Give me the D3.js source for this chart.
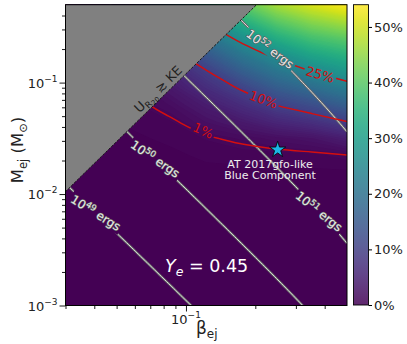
<!DOCTYPE html>
<html>
<head>
<meta charset="utf-8">
<script src="https://cdn.jsdelivr.net/npm/d3@7"></script>
<style>
  body { margin: 0; background: #fff; }
  svg { font-family: "DejaVu Sans", sans-serif; }
</style>
</head>
<body>
<svg id="chart" width="407" height="344"></svg>
<script>
// ---- data ----
// log-uniform sample grid of the colour map (value in %)
var gridBeta = [0.030, 0.0427, 0.0607, 0.0861, 0.1224, 0.174, 0.247, 0.352, 0.5];
var gridMass = [0.00794, 0.0112, 0.0158, 0.0224, 0.0316, 0.0447, 0.0631, 0.0891, 0.126, 0.178, 0.251, 0.355, 0.501];
// rows go from lowest mass to highest, columns follow gridBeta
var gridValues = [
  [0,    0,    0,    0,    0,    0,    0,    0,    0],
  [0,    0,    0.01, 0.02, 0.03, 0.03, 0.03, 0.03, 0.03],
  [0,    0.01, 0.03, 0.06, 0.12, 0.15, 0.15, 0.15, 0.15],
  [0.01, 0.03, 0.08, 0.15, 0.35, 0.4,  0.5,  0.6,  1.0],
  [0.03, 0.07, 0.18, 0.35, 0.8,  1.35, 2.0,  2.7,  4.5],
  [0.07, 0.15, 0.35, 0.7,  2.3,  3.76, 5.8,  7.4,  10],
  [0.15, 0.3,  0.65, 1.83, 4.13, 6.8,  10.2, 12.8, 16.25],
  [0.3,  0.5,  1.0,  3.43, 6.8,  10.5, 15.6, 18.9, 22.5],
  [0.5,  0.9,  2,    5.33, 9.67, 15.8, 20.9, 25,   28.6],
  [0.8,  1.5,  3.5,  7.8,  14.7, 21.1, 26.6, 31.5, 34.5],
  [1.3,  2.5,  5.5,  10.5, 20,   26.8, 33.4, 38,   40.5],
  [2,    4,    8,    15,   25.5, 33.6, 40.2, 44.5, 47.25],
  [3,    6,    11,   20,   32,   40.3, 47,   51,   54]
];
var contourLevels = [1, 10, 25];
var contourNames = ['1%', '10%', '25%'];
var energyLevels = [1e49, 1e50, 1e51, 1e52];
var energyExp = ['49', '50', '51', '52'];
// U_rad >= KE boundary (two ends of the straight edge)
var uradBeta = [0.03, 0.2025];
var uradMass = [0.01052, 0.5];
var starBeta = [0.25];
var starMass = [0.025];
var xTicksMajor = [0.1];
var xTicksMinor = [0.03, 0.04, 0.05, 0.06, 0.07, 0.08, 0.09, 0.2, 0.3, 0.4];
var yTicksMajor = [1e-3, 1e-2, 1e-1];
var yTicksMinor = [0.002, 0.003, 0.004, 0.005, 0.006, 0.007, 0.008, 0.009,
                   0.02, 0.03, 0.04, 0.05, 0.06, 0.07, 0.08, 0.09, 0.2, 0.3, 0.4];
var cbarTicks = [0, 10, 20, 30, 40, 50];

// ---- label placement ----
var contourLabelAt = [[0.1187, 0.0371, 24], [0.2167, 0.0704, 20], [0.382, 0.118, 16]];
// beta on the line, rotation in degrees
var energyLabelAt = [[0.0406, 32], [0.0735, 34], [0.378, 39], [0.2316, 37]];

var W = 407, H = 344;
var X0 = 65.5, X1 = 347, Y0 = 4.7, Y1 = 305.5;
var MSUN_C2 = 1.989e33 * 2.998e10 * 2.998e10;

var x = d3.scaleLog().domain([0.03, 0.5]).range([X0, X1]);
var y = d3.scaleLog().domain([1e-3, 0.5]).range([Y1, Y0]);
var color = d3.scaleSequential(d3.interpolateViridis).domain([0, 54]);

var svg = d3.select('#chart');
var defs = svg.append('defs');
defs.append('clipPath').attr('id', 'plotClip')
  .append('rect').attr('x', X0).attr('y', Y0).attr('width', X1 - X0).attr('height', Y1 - Y0);
var gapMask = defs.append('mask').attr('id', 'gapMask')
  .attr('maskUnits', 'userSpaceOnUse').attr('x', 0).attr('y', 0).attr('width', W).attr('height', H);
gapMask.append('rect').attr('width', W).attr('height', H).attr('fill', 'white');

var plot = svg.append('g').attr('clip-path', 'url(#plotClip)');
plot.append('rect').attr('x', X0).attr('y', Y0).attr('width', X1 - X0).attr('height', Y1 - Y0)
  .attr('fill', color(0));

// grid coordinate -> pixel (d3.contours puts sample i at i + 0.5)
var nx = gridBeta.length, ny = gridMass.length;
var lb0 = Math.log10(gridBeta[0]), dlb = (Math.log10(gridBeta[nx - 1]) - lb0) / (nx - 1);
var lm0 = Math.log10(gridMass[0]), dlm = (Math.log10(gridMass[ny - 1]) - lm0) / (ny - 1);
function gx(c) { return x(Math.pow(10, lb0 + (c - 0.5) * dlb)); }
function gy(c) { return y(Math.pow(10, lm0 + (c - 0.5) * dlm)); }
var flat = [].concat.apply([], gridValues);
var proj = d3.geoTransform({ point: function(px, py) { this.stream.point(gx(px), gy(py)); } });
var geoPath = d3.geoPath(proj);

//filled colour map as thin bands
var fillLevels = d3.range(0.25, 54, 0.5);
var bands = d3.contours().size([nx, ny]).thresholds(fillLevels)(flat);
plot.append('g').selectAll('path').data(bands).join('path')
  .attr('d', geoPath)
  .attr('fill', function(d) { return color(d.value + 0.25); });

var lined = plot.append('g').attr('mask', 'url(#gapMask)');

// constant kinetic energy lines
var betaSamples = d3.range(0, 121).map(function(i) { return 0.03 * Math.pow(0.5 / 0.03, i / 120); });
function massAt(E, b) { return E / ((1 / Math.sqrt(1 - b * b) - 1) * MSUN_C2); }
var eLine = d3.line().x(function(d) { return x(d[0]); }).y(function(d) { return y(d[1]); });
energyLevels.forEach(function(E) {
  var pts = betaSamples.map(function(b) { return [b, massAt(E, b)]; });
  lined.append('path').attr('d', eLine(pts)).attr('fill', 'none')
    .attr('stroke', '#6a6a6a').attr('stroke-width', 2.4);
  lined.append('path').attr('d', eLine(pts)).attr('fill', 'none')
    .attr('stroke', '#dcdcdc').attr('stroke-width', 1);
});

// red contours of the map
var isos = d3.contours().size([nx, ny]).thresholds(contourLevels)(flat);
function onEdge(p) { return p[0] <= 1e-6 || p[0] >= nx - 1e-6 || p[1] <= 1e-6 || p[1] >= ny - 1e-6; }
var isoLine = d3.line().defined(function(p) { return !onEdge(p); })
  .x(function(p) { return gx(p[0]); }).y(function(p) { return gy(p[1]); })
  .curve(d3.curveBasis);
isos.forEach(function(c) {
  c.coordinates.forEach(function(poly) {
    poly.forEach(function(ring) {
      lined.append('path').attr('d', isoLine(ring)).attr('fill', 'none')
        .attr('stroke', '#d40f0f').attr('stroke-width', 1.5);
    });
  });
});

// grey region where U_rad >= KE
plot.append('path')
  .attr('d', 'M' + x(uradBeta[0]) + ',' + y(uradMass[0]) + 'L' + x(uradBeta[1]) + ',' + y(uradMass[1]) +
             'L' + x(0.03) + ',' + Y0 + 'Z')
  .attr('fill', '#808080');
plot.append('line')
  .attr('x1', x(uradBeta[0])).attr('y1', y(uradMass[0]))
  .attr('x2', x(uradBeta[1])).attr('y2', y(uradMass[1]))
  .attr('stroke', '#1a1a1a').attr('stroke-width', 1).attr('stroke-dasharray', '2.5,1.5');

var labels = svg.append('g');
function addGap(g, tr) {
  var bb = g.node().getBBox();
  gapMask.append('rect').attr('transform', tr)
    .attr('x', bb.x - 2).attr('y', bb.y).attr('width', bb.width + 4).attr('height', bb.height)
    .attr('fill', 'black');
}

// energy labels
energyLevels.forEach(function(E, i) {
  var b = energyLabelAt[i][0];
  var tr = 'translate(' + x(b) + ',' + y(massAt(E, b)) + ') rotate(' + energyLabelAt[i][1] + ')';
  var g = labels.append('g').attr('transform', tr);
  var t = g.append('text').attr('text-anchor', 'middle').attr('dy', '0.35em')
    .attr('font-size', 12).attr('fill', '#e8e8e8')
    .attr('stroke', '#5a5a5a').attr('stroke-width', 1.2).attr('paint-order', 'stroke');
  t.append('tspan').text('10');
  t.append('tspan').attr('font-size', 8.5).attr('dy', -4.5).text(energyExp[i]);
  t.append('tspan').attr('dy', 4.5).text(' ergs');
  addGap(t, tr);
});

// contour labels
contourLevels.forEach(function(lv, i) {
  var p = contourLabelAt[i];
  var tr = 'translate(' + x(p[0]) + ',' + y(p[1]) + ') rotate(' + p[2] + ')';
  var t = labels.append('g').attr('transform', tr).append('text')
    .attr('text-anchor', 'middle').attr('dy', '0.35em')
    .attr('font-size', 13).attr('fill', '#d40f0f').text(contourNames[i]);
  addGap(t, tr);
});

// U_rad >= KE label along the boundary
var bx = 164, by = y(uradMass[0]) + (bx - x(uradBeta[0])) * (y(uradMass[1]) - y(uradMass[0])) / (x(uradBeta[1]) - x(uradBeta[0]));
var bang = Math.atan2(y(uradMass[1]) - y(uradMass[0]), x(uradBeta[1]) - x(uradBeta[0])) * 180 / Math.PI;
var ut = labels.append('text').attr('transform', 'translate(' + bx + ',' + by + ') rotate(' + bang + ')')
  .attr('y', -4).attr('text-anchor', 'middle').attr('font-size', 13).attr('fill', '#222');
ut.append('tspan').text('U');
ut.append('tspan').attr('font-size', 9).attr('dy', 3).text('R');
ut.append('tspan').attr('font-size', 7).attr('dy', 1.5).text('20');
ut.append('tspan').attr('dy', -4.5).text(' \u2273 KE');

// star for the AT 2017gfo-like blue component
labels.selectAll('path.star').data(starBeta).join('path').attr('class', 'star')
  .attr('transform', function(d, i) { return 'translate(' + x(d) + ',' + y(starMass[i]) + ')'; })
  .attr('d', d3.symbol(d3.symbolStar).size(80))
  .attr('fill', '#1cb6e6').attr('stroke', '#000').attr('stroke-width', 0.8);
labels.append('text').attr('x', 270).attr('y', 167.5).attr('text-anchor', 'middle')
  .attr('font-size', 11).attr('fill', '#eeeeee').text('AT 2017gfo-like');
labels.append('text').attr('x', 270).attr('y', 179).attr('text-anchor', 'middle')
  .attr('font-size', 11).attr('fill', '#eeeeee').text('Blue Component');

var ye = labels.append('text').attr('x', 165).attr('y', 272).attr('font-size', 17.5).attr('fill', '#fff');
ye.append('tspan').attr('font-style', 'italic').text('Y');
ye.append('tspan').attr('font-style', 'italic').attr('font-size', 12.5).attr('dy', 4).text('e');
ye.append('tspan').attr('dy', -4).text(' = 0.45');

// frame
svg.append('rect').attr('x', X0).attr('y', Y0).attr('width', X1 - X0).attr('height', Y1 - Y0)
  .attr('fill', 'none').attr('stroke', '#000').attr('stroke-width', 1);

// axes
function powLabel(sel, exp) {
  sel.append('tspan').text('10');
  sel.append('tspan').attr('font-size', 9).attr('dy', -6).text('\u2212' + exp);
}
var ax = svg.append('g').attr('transform', 'translate(0,' + Y1 + ')');
ax.call(d3.axisBottom(x).tickValues(xTicksMinor).tickSize(3.5).tickFormat(''));
ax.append('g').call(d3.axisBottom(x).tickValues(xTicksMajor).tickSize(6).tickFormat(''));
ax.selectAll('.domain').remove();
ax.selectAll('line').attr('stroke', '#000').attr('stroke-width', 0.9);
xTicksMajor.forEach(function(v) {
  var t = svg.append('text').attr('x', x(v)).attr('y', 323.5).attr('text-anchor', 'middle')
    .attr('font-size', 13).attr('fill', '#222');
  powLabel(t, Math.round(-Math.log10(v)));
});

var ay = svg.append('g').attr('transform', 'translate(' + X0 + ',0)');
ay.call(d3.axisLeft(y).tickValues(yTicksMinor).tickSize(3.5).tickFormat(''));
ay.append('g').call(d3.axisLeft(y).tickValues(yTicksMajor).tickSize(6).tickFormat(''));
ay.selectAll('.domain').remove();
ay.selectAll('line').attr('stroke', '#000').attr('stroke-width', 0.9);
yTicksMajor.forEach(function(v) {
  var t = svg.append('text').attr('x', 57.5).attr('y', y(v) + 5).attr('text-anchor', 'end')
    .attr('font-size', 13).attr('fill', '#222');
  powLabel(t, Math.round(-Math.log10(v)));
});

var xl = svg.append('text').attr('x', 196).attr('y', 334).attr('font-size', 17).attr('fill', '#222');
xl.append('tspan').text('\u03b2');
xl.append('tspan').attr('font-size', 12).attr('dy', 4).text('ej');

var yl = svg.append('text').attr('transform', 'translate(23,150) rotate(-90)')
  .attr('text-anchor', 'middle').attr('font-size', 16.5).attr('fill', '#222');
yl.append('tspan').text('M');
yl.append('tspan').attr('font-size', 11.5).attr('dy', 4).text('ej');
yl.append('tspan').attr('dy', -4).text(' (M');
yl.append('tspan').attr('font-size', 11.5).attr('dy', 4).text('\u2299');
yl.append('tspan').attr('dy', -4).text(')');

// colour bar
var CB0 = 353.5, CB1 = 368.5;
var cy = d3.scaleLinear().domain([0, 54]).range([305, 4.7]);
var grad = defs.append('linearGradient').attr('id', 'cbGrad')
  .attr('x1', 0).attr('y1', 1).attr('x2', 0).attr('y2', 0);
d3.range(0, 1.0001, 0.05).forEach(function(s) {
  grad.append('stop').attr('offset', s).attr('stop-color', color(s * 54));
});
svg.append('rect').attr('x', CB0).attr('y', cy(54)).attr('width', CB1 - CB0).attr('height', cy(0) - cy(54))
  .attr('fill', 'url(#cbGrad)').attr('opacity', 0.85);
svg.append('rect').attr('x', CB0).attr('y', cy(54)).attr('width', CB1 - CB0).attr('height', cy(0) - cy(54))
  .attr('fill', 'none').attr('stroke', '#000').attr('stroke-width', 0.9);
var cb = svg.append('g').attr('transform', 'translate(' + CB1 + ',0)');
cb.call(d3.axisRight(cy).tickValues(cbarTicks).tickSize(3.5).tickPadding(2)
  .tickFormat(function(d) { return d + '%'; }));
cb.selectAll('.domain').remove();
cb.selectAll('text').attr('font-size', 13).attr('font-family', '"DejaVu Sans", sans-serif').attr('fill', '#222');
cb.selectAll('line').attr('stroke', '#000');
</script>
</body>
</html>
